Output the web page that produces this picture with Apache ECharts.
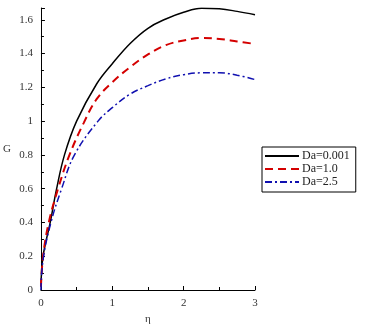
<!DOCTYPE html>
<html>
<head>
<meta charset="utf-8">
<script src="https://cdn.jsdelivr.net/npm/echarts@6/dist/echarts.min.js"></script>
<style>
  html, body { margin: 0; padding: 0; background: #ffffff; }
  #chart { width: 368px; height: 330px; }
</style>
</head>
<body>
<div id="chart"></div>
<script>
// 曲线数据（η, G）
const seriesNames = ['Da=0.001', 'Da=1.0', 'Da=2.5'];
const etaBlack = [0, 0.03, 0.13, 0.22, 0.33, 0.5, 0.78, 1.0, 1.25, 1.5, 1.75, 2.0, 2.25, 2.5, 2.75, 3];
const gBlack = [0.02, 0.2, 0.4, 0.6, 0.8, 1.0, 1.22, 1.34, 1.46, 1.55, 1.605, 1.645, 1.668, 1.665, 1.65, 1.63];
const etaRed = [0, 0.03, 0.11, 0.24, 0.4, 0.6, 0.78, 1.0, 1.25, 1.5, 1.75, 2.0, 2.25, 2.5, 2.75, 3];
const gRed = [0.02, 0.2, 0.4, 0.6, 0.8, 0.99, 1.13, 1.23, 1.32, 1.395, 1.45, 1.478, 1.492, 1.487, 1.472, 1.457];
const etaBlue = [0, 0.03, 0.14, 0.29, 0.47, 0.8, 1.0, 1.25, 1.5, 1.75, 2.0, 2.25, 2.5, 2.75, 3];
const gBlue = [0, 0.18, 0.4, 0.6, 0.8, 1.0, 1.08, 1.16, 1.21, 1.25, 1.275, 1.286, 1.286, 1.272, 1.246];
const xTicks = [0, 1, 2, 3];

const zip = (xs, ys) => xs.map((x, i) => [x, ys[i]]);

const chart = echarts.init(document.getElementById('chart'));
const font = 'Liberation Serif';

const option = {
  backgroundColor: '#ffffff',
  animation: false,
  textStyle: { fontFamily: font },
  grid: { left: 39, right: 113, top: 8, bottom: 30 },
  legend: {
    orient: 'vertical',
    left: 262,
    top: 147,
    width: 102,
    padding: [3, 6, 4, 2],
    itemGap: 1,
    itemWidth: 34,
    itemHeight: 12,
    // 只显示线段，不显示圆点
    itemStyle: { opacity: 0 },
    borderColor: '#000',
    borderWidth: 1,
    backgroundColor: '#fff',
    textStyle: { fontFamily: font, fontSize: 12, color: '#222', padding: [0, 0, 0, -2] },
    data: seriesNames
  },
  xAxis: {
    type: 'value',
    min: xTicks[0],
    max: xTicks[xTicks.length - 1],
    interval: 1,
    name: 'η',
    nameLocation: 'middle',
    nameGap: 24,
    nameTextStyle: { fontFamily: font, fontSize: 11, color: '#333' },
    axisLine: { lineStyle: { color: '#000', width: 1 } },
    axisTick: { inside: true, length: 4, lineStyle: { color: '#000' } },
    minorTick: { show: true, splitNumber: 2, length: 3, lineStyle: { color: '#000' } },
    axisLabel: { color: '#333', fontSize: 11, margin: 8, fontFamily: font },
    splitLine: { show: false }
  },
  yAxis: {
    type: 'value',
    min: 0,
    max: 1.67,
    interval: 0.2,
    name: 'G',
    nameLocation: 'middle',
    nameRotate: 0,
    nameGap: 30,
    nameTextStyle: { fontFamily: font, fontSize: 11, color: '#333' },
    axisLine: { show: true, lineStyle: { color: '#000', width: 1 } },
    axisTick: { inside: true, length: 4, lineStyle: { color: '#000' } },
    minorTick: { show: true, splitNumber: 2, length: 3, lineStyle: { color: '#000' } },
    axisLabel: {
      color: '#333', fontSize: 11, margin: 8, fontFamily: font,
      showMaxLabel: false,
      formatter: v => (Math.abs(v - 1.67) < 1e-6 ? '' : String(+v.toFixed(1)))
    },
    splitLine: { show: false }
  },
  series: [
    {
      name: seriesNames[0],
      type: 'line',
      data: zip(etaBlack, gBlack),
      smooth: 0.4,
      symbol: 'none',
      lineStyle: { color: '#000', width: 1.5, type: 'solid' },
      itemStyle: { color: '#000' }
    },
    {
      name: seriesNames[1],
      type: 'line',
      data: zip(etaRed, gRed),
      smooth: 0.4,
      symbol: 'none',
      lineStyle: { color: '#d40000', width: 2, type: [8, 5] },
      itemStyle: { color: '#d40000' }
    },
    {
      name: seriesNames[2],
      type: 'line',
      data: zip(etaBlue, gBlue),
      smooth: 0.4,
      symbol: 'none',
      lineStyle: { color: '#1010b0', width: 1.5, type: [7, 3, 2, 3] },
      itemStyle: { color: '#1010b0' }
    }
  ]
};

chart.setOption(option);
</script>
</body>
</html>
